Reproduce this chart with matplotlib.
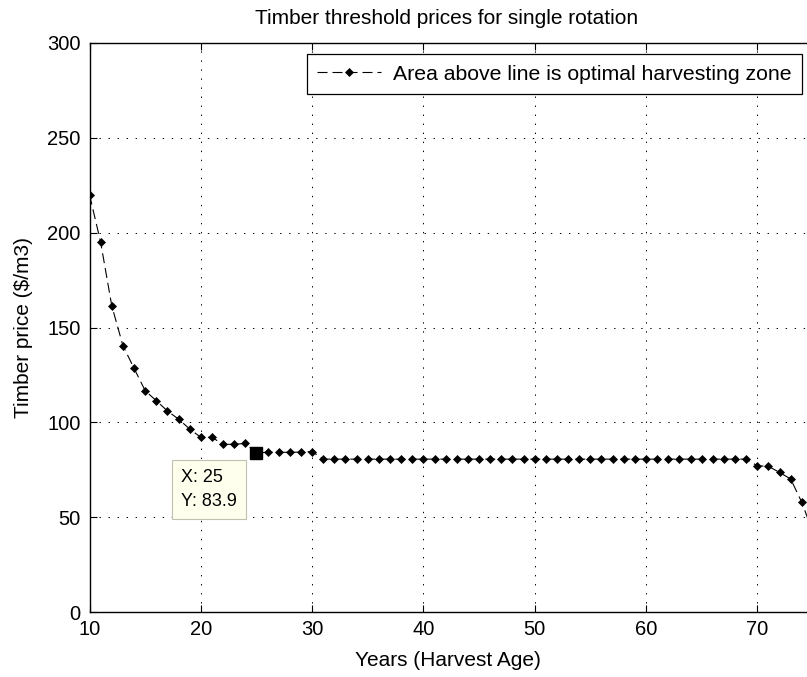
import numpy as np
import matplotlib
matplotlib.use("Agg")
import matplotlib.pyplot as plt

plt.rcParams['font.family'] = ['Liberation Sans', 'DejaVu Sans']
plt.rcParams['lines.scale_dashes'] = False

# --- Données ---
annees = list(range(10, 76))
prix_seuil = [220, 195, 161.5, 140.5, 128.5, 116.7, 111.4, 106, 101.7, 96.5,
              92.1, 92.1, 88.4, 88.4, 88.9, 83.9, 84.2, 84.2, 84.2, 84.3,
              84.6] + [80.6] * 39 + [77.1, 76.8, 73.6, 70.1, 57.8, 42]
titre = "Timber threshold prices for single rotation"
legende = "Area above line is optimal harvesting zone"
x_ticks = [10, 20, 30, 40, 50, 60, 70]
y_ticks = [0, 50, 100, 150, 200, 250, 300]
point_x, point_y = 25, 83.9

W, H = 807, 677
fig = plt.figure(figsize=(W / 100, H / 100), dpi=100)

# axes qui dépassent à droite, comme la capture d'origine
gauche, bas, haut = 89.5, 612, 43
px_par_an = 11.13
xmax = 76
droite = gauche + (xmax - 10) * px_par_an
ax = fig.add_axes([gauche / W, (H - bas) / H, (droite - gauche) / W, (bas - haut) / H])

ax.plot(annees, prix_seuil, color="black", linewidth=0.8, dashes=(7.2, 3.6),
        marker="D", markersize=4.5, markerfacecolor="black", markeredgewidth=0.5,
        label=legende)

ax.set_xlim(10, xmax)
ax.set_ylim(0, 300)
ax.set_xticks(x_ticks)
ax.set_yticks(y_ticks)
ax.tick_params(direction="in", length=5, width=0.8, top=True, right=True,
               labelsize=14.5, pad=6.5)
ax.tick_params(axis="x", pad=6)
for s in ax.spines.values():
    s.set_linewidth(1.0)
ax.grid(True, color="black", linestyle=(0, (1, 5.5)), linewidth=0.7)

# point sélectionné (datatip)
ax.plot([point_x], [point_y], marker="s", markersize=8.5, color="black",
        linestyle="none", zorder=5)
ax.annotate(f"X: {point_x}\nY: {point_y}", xy=(point_x, point_y),
            xytext=(-75, -16), textcoords="offset pixels", ha="left", va="top",
            fontsize=13, linespacing=1.55, zorder=6,
            bbox=dict(boxstyle="square,pad=0.5", fc="#ffffee", ec="#c0c0b0", lw=0.8))

fig.text(447 / W, 1 - 19 / H, titre, ha="center", va="center", fontsize=15)
fig.text(448 / W, 1 - 660 / H, "Years (Harvest Age)", ha="center", va="center", fontsize=15)
fig.text(24 / W, 1 - 328 / H, "Timber price ($/m3)", ha="center", va="center",
         rotation=90, fontsize=15)

leg = ax.legend(loc="upper right", bbox_to_anchor=(802 / W, 1 - 54 / H),
                bbox_transform=fig.transFigure, borderaxespad=0, fontsize=15.3,
                handlelength=3.0, handletextpad=0.55, borderpad=0.5,
                fancybox=False, framealpha=1)
leg.get_frame().set_edgecolor("black")
leg.get_frame().set_linewidth(0.9)

fig.savefig("out.png", dpi=100)
